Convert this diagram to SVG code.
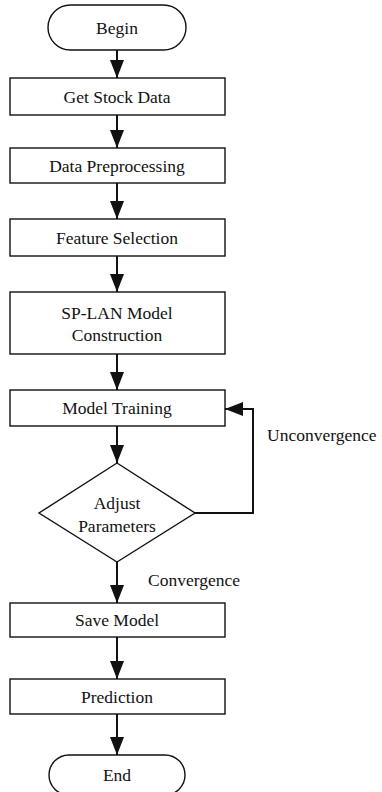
<svg xmlns="http://www.w3.org/2000/svg" width="382" height="792" viewBox="0 0 382 792">
  <style>
    .shape { fill: #fff; stroke: #111; stroke-width: 1.4; }
    .edge { fill: none; stroke: #111; stroke-width: 2; }
    text { font-size: 17.5px; fill: #111; text-anchor: middle; dominant-baseline: central; }
    .lbl { text-anchor: start; }
  </style>
  <defs>
    <marker id="arrow" viewBox="0 0 18 14" refX="18" refY="7" markerWidth="18" markerHeight="14" markerUnits="userSpaceOnUse" orient="auto">
      <path d="M0,0 L18,7 L0,14 Z" fill="#111"/>
    </marker>
  </defs>
  <rect width="382" height="792" fill="#fff"/>

  <g font-family="Liberation Serif, DejaVu Serif, serif">
  <g id="connectors">
    <path class="edge" d="M117,50 V78" marker-end="url(#arrow)"/>
    <path class="edge" d="M117,115 V148" marker-end="url(#arrow)"/>
    <path class="edge" d="M117,183 V219" marker-end="url(#arrow)"/>
    <path class="edge" d="M117,256 V292" marker-end="url(#arrow)"/>
    <path class="edge" d="M117,354 V390" marker-end="url(#arrow)"/>
    <path class="edge" d="M117,426 V463" marker-end="url(#arrow)"/>
    <path class="edge" d="M117,562 V603" marker-end="url(#arrow)"/>
    <path class="edge" d="M117,637 V679" marker-end="url(#arrow)"/>
    <path class="edge" d="M117,714 V755" marker-end="url(#arrow)"/>
    <path class="edge" d="M195,513 H253 V409 H225" marker-end="url(#arrow)"/>
    <text class="lbl" x="267" y="435">Unconvergence</text>
    <text class="lbl" x="148" y="580">Convergence</text>
  </g>

  <g id="begin">
    <rect class="shape" x="48" y="5" width="138" height="45" rx="22.5"/>
    <text x="117" y="28">Begin</text>
  </g>
  <g id="get-stock-data">
    <rect class="shape" x="10" y="78" width="215" height="37"/>
    <text x="117" y="96.5">Get Stock Data</text>
  </g>
  <g id="data-preprocessing">
    <rect class="shape" x="10" y="148" width="215" height="35"/>
    <text x="117" y="165.5">Data Preprocessing</text>
  </g>
  <g id="feature-selection">
    <rect class="shape" x="10" y="219" width="215" height="37"/>
    <text x="117" y="237.5">Feature Selection</text>
  </g>
  <g id="model-construction">
    <rect class="shape" x="10" y="292" width="215" height="62"/>
    <text x="117" y="313">SP-LAN Model</text>
    <text x="117" y="335">Construction</text>
  </g>
  <g id="model-training">
    <rect class="shape" x="10" y="390" width="215" height="36"/>
    <text x="117" y="408">Model Training</text>
  </g>
  <g id="adjust-parameters">
    <path class="shape" d="M117,463 L195,513 L117,562 L39,513 Z"/>
    <text x="117" y="503">Adjust</text>
    <text x="117" y="526">Parameters</text>
  </g>
  <g id="save-model">
    <rect class="shape" x="10" y="603" width="215" height="34"/>
    <text x="117" y="620">Save Model</text>
  </g>
  <g id="prediction">
    <rect class="shape" x="10" y="679" width="215" height="35"/>
    <text x="117" y="696.5">Prediction</text>
  </g>
  <g id="end">
    <rect class="shape" x="49" y="755" width="136" height="40" rx="20"/>
    <text x="117" y="775">End</text>
  </g>
  </g>
</svg>
